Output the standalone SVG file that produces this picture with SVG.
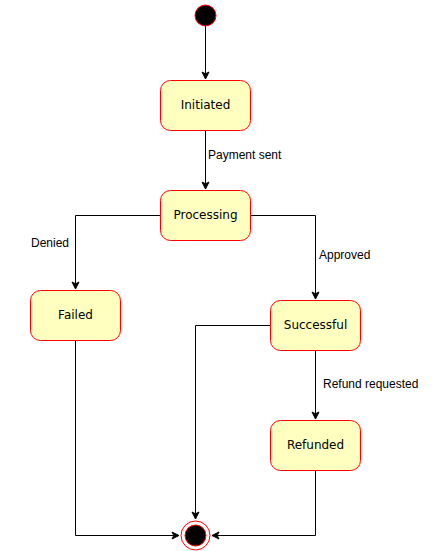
<svg xmlns="http://www.w3.org/2000/svg" width="440" height="551" viewBox="0 0 440 551">
<defs>
<style>
.node rect{fill:#ffffc0;stroke:#ff0000;stroke-width:1}
.node text{font-family:"DejaVu Sans",Verdana,sans-serif;font-size:12px;fill:#000;text-anchor:middle;dominant-baseline:central}
.edge{fill:none;stroke:#000;stroke-width:1;marker-end:url(#arr)}
.lbl{font-family:"Liberation Sans",Arial,sans-serif;font-size:12px;fill:#000}
</style>
<marker id="arr" markerWidth="10" markerHeight="10" viewBox="0 0 10 10" refX="8" refY="5" orient="auto" markerUnits="userSpaceOnUse">
<path d="M1,1.5 L8,5 L1,8.5 L2.8,5 Z" fill="#000" stroke="#000" stroke-width="1"/>
</marker>
</defs>
<rect width="440" height="551" fill="#fff"/>
<g id="connectors">
<path class="edge" d="M205.5,26 V79"/>
<path class="edge" d="M205.5,130.5 V189"/>
<path class="edge" d="M160.5,215.5 H75.5 V289"/>
<path class="edge" d="M250.5,215.5 H315.5 V299"/>
<path class="edge" d="M315.5,350.5 V419"/>
<path class="edge" d="M270.5,325.5 H195.5 V519"/>
<path class="edge" d="M75.5,340.5 V535.5 H179"/>
<path class="edge" d="M315.5,470.5 V535.5 H212"/>
<text class="lbl" x="208" y="159">Payment sent</text>
<text class="lbl" x="31" y="247">Denied</text>
<text class="lbl" x="319" y="259">Approved</text>
<text class="lbl" x="323" y="388">Refund requested</text>
</g>
<g id="start"><circle cx="205.5" cy="15.5" r="10.5" fill="#000" stroke="#ff0000" stroke-width="1"/></g>
<g id="initiated" class="node"><rect x="160.5" y="80.5" width="90" height="50" rx="10"/><text x="205.5" y="104.5">Initiated</text></g>
<g id="processing" class="node"><rect x="160.5" y="190.5" width="90" height="50" rx="10"/><text x="205.5" y="214.5">Processing</text></g>
<g id="failed" class="node"><rect x="30.5" y="290.5" width="90" height="50" rx="10"/><text x="75.5" y="314.5">Failed</text></g>
<g id="successful" class="node"><rect x="270.5" y="300.5" width="90" height="50" rx="10"/><text x="315.5" y="324.5">Successful</text></g>
<g id="refunded" class="node"><rect x="270.5" y="420.5" width="90" height="50" rx="10"/><text x="315.5" y="444.5">Refunded</text></g>
<g id="end"><circle cx="195.5" cy="535.5" r="14.5" fill="#fff" stroke="#ff0000" stroke-width="1"/><circle cx="195.5" cy="535.5" r="10.5" fill="#000" stroke="#ff0000" stroke-width="1"/></g>
</svg>
